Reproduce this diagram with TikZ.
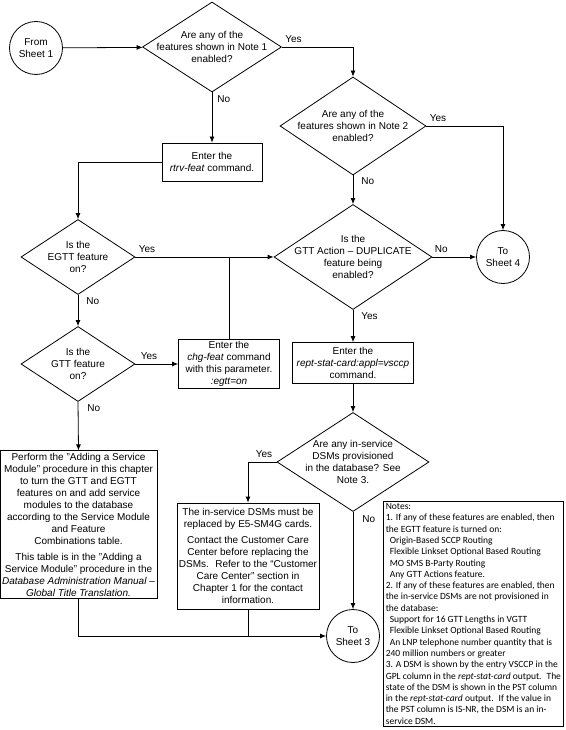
\documentclass[tikz,border=0pt]{standalone}
\usepackage{fontspec}
\setmainfont{Liberation Sans}
\newfontfamily\notesfont{Carlito}
\usepackage{tikz}
\usetikzlibrary{arrows.meta,positioning,shapes.geometric}

\begin{document}
\begin{tikzpicture}[x=1pt,y=-1pt,
  every node/.style={font=\fontsize{10}{12}\selectfont},
  decision/.style={diamond,draw,line width=0.8pt,inner sep=-20pt,align=center},
  proc/.style={rectangle,draw,line width=0.8pt,inner sep=2pt,align=center},
  sheet/.style={circle,draw,line width=0.8pt,minimum size=53pt,inner sep=0pt,align=center},
  edge/.style={-{Latex[length=6pt,width=5pt]},line width=0.8pt},
  link/.style={line width=0.8pt},
  lbl/.style={inner sep=1pt}
]
\useasboundingbox (0,0) rectangle (565,730);

\node[sheet] (from) at (36,48) {From\\Sheet 1};
\node[decision,minimum width=139pt,minimum height=90pt] (note1) at (212,47) {Are any of the\\features shown in Note 1\\enabled?};
\node[decision,minimum width=146pt,minimum height=98pt] (note2) at (353,126) {Are any of the\\features shown in Note 2\\enabled?};
\node[proc,minimum width=100pt,minimum height=38pt] (rtrv) at (212,162) {Enter the\\\textit{rtrv-feat} command.};
\node[decision,minimum width=114pt,minimum height=75pt] (egtt) at (78,257) {Is the\\EGTT feature\\on?};
\node[decision,minimum width=114pt,minimum height=75pt] (gtt) at (78,364) {Is the\\GTT feature\\on?};
\node[proc,minimum width=101pt,minimum height=48pt] (chg) at (229,364) {Enter the\\\textit{chg-feat} command\\with this parameter.\\\textit{:egtt=on}};
\node[decision,minimum width=158pt,minimum height=105pt] (dup) at (353,257) {Is the\\GTT Action – DUPLICATE\\feature being\\enabled?};
\node[sheet] (to4) at (503,257) {To\\Sheet 4};
\node[proc,minimum width=121pt,minimum height=41pt] (rept) at (353,363) {Enter the\\\textit{rept-stat-card:appl=vsccp}\\command.};
\node[decision,minimum width=152pt,minimum height=99pt] (dsm) at (353,462) {Are any in-service\\DSMs provisioned\\in the database? See\\Note 3.};
\node[proc,minimum width=141pt,minimum height=106pt] (replace) at (248,556) {The in-service DSMs must be\\replaced by E5-SM4G cards.\\[4pt]
  Contact the Customer Care\\Center before replacing the\\DSMs.~ Refer to the “Customer\\Care Center” section in\\Chapter 1 for the contact\\information.};
\node[proc,minimum width=153pt,minimum height=133pt] (perform) at (78.5,524.5) {Perform the "Adding a Service\\Module" procedure in this chapter\\to turn the GTT and EGTT\\features on and add service\\modules to the database\\according to the Service Module\\and Feature\\Combinations table.\\[4pt]
  This table is in the "Adding a\\Service Module" procedure in the\\\textit{Database Administration Manual –}\\\textit{Global Title Translation.}};
\node[sheet] (to3) at (353,636) {To\\Sheet 3};
\node[proc,anchor=north west,minimum width=180pt,minimum height=225pt,align=left,
  font=\notesfont\fontsize{9.5}{11.3}\selectfont] (notes) at (383,501) {Notes:\\
1. If any of these features are enabled, then\\
the EGTT feature is turned on:\\
\hspace*{4pt}Origin-Based SCCP Routing\\
\hspace*{4pt}Flexible Linkset Optional Based Routing\\
\hspace*{4pt}MO SMS B-Party Routing\\
\hspace*{4pt}Any GTT Actions feature.\\
2. If any of these features are enabled, then\\
the in-service DSMs are not provisioned in\\
the database:\\
\hspace*{4pt}Support for 16 GTT Lengths in VGTT\\
\hspace*{4pt}Flexible Linkset Optional Based Routing\\
\hspace*{4pt}An LNP telephone number quantity that is\\
240 million numbers or greater\\
3. A DSM is shown by the entry VSCCP in the\\
GPL column in the \textit{rept-stat-card} output.~ The\\
state of the DSM is shown in the PST column\\
in the \textit{rept-stat-card} output.~ If the value in\\
the PST column is IS-NR, the DSM is an in-\\
service DSM.};

\draw[edge] (from) -- (note1);
\draw[edge] (note1.east) node[lbl,anchor=south west,xshift=2pt,yshift=3pt] {Yes} -| (note2.north);
\draw[edge] (note1.south) node[lbl,anchor=north west,xshift=4pt,yshift=-2pt] {No} -- (rtrv.north);
\draw[edge] (note2.east) node[lbl,anchor=south west,xshift=2pt,yshift=3pt] {Yes} -| (to4.north);
\draw[edge] (note2.south) node[lbl,anchor=north west,xshift=7pt,yshift=-1pt] {No} -- (dup.north);
\draw[edge] (rtrv.west) -| (egtt.north);
\draw[edge] (egtt.east) node[lbl,anchor=south west,xshift=2pt,yshift=3pt] {Yes} -- (dup.west);
\draw[edge] (egtt.south) node[lbl,anchor=north west,xshift=7pt,yshift=-1pt] {No} -- (gtt.north);
\draw[edge] (gtt.east) node[lbl,anchor=south west,xshift=4pt,yshift=3pt] {Yes} -- (chg.west);
\draw[link] (chg.north) -- (chg.north |- egtt.east);
\draw[edge] (gtt.south) node[lbl,anchor=north west,xshift=8pt,yshift=-1pt] {No} -- (perform.north);
\draw[edge] (dup.east) node[lbl,anchor=south west,xshift=1pt,yshift=3pt] {No} -- (to4.west);
\draw[edge] (dup.south) node[lbl,anchor=north west,xshift=7pt,yshift=-1pt] {Yes} -- (rept.north);
\draw[edge] (rept) -- (dsm);
\draw[edge] (dsm.west) node[lbl,anchor=south east,xshift=-3pt,yshift=3pt] {Yes} -| (replace.north);
\draw[edge] (dsm.south) node[lbl,anchor=north west,xshift=8pt,yshift=-2pt] {No} -- (to3);
\draw[edge] (perform.south) |- (to3.west);
\coordinate (join) at (replace.south |- to3.west);
\draw[link] (replace.south) -- (join);
\end{tikzpicture}
\end{document}
